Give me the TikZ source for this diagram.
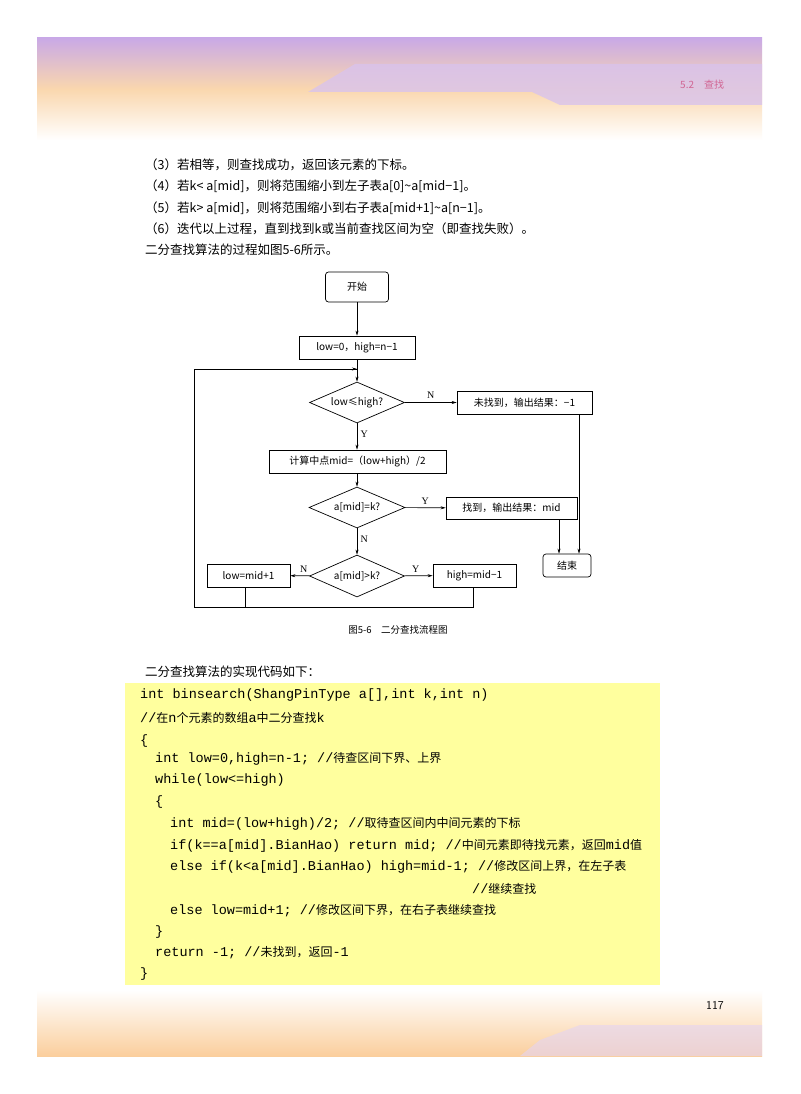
\documentclass[tikz,border=0pt]{standalone}
\usepackage{fontspec}
\setmainfont{Liberation Serif}
\setmonofont{Liberation Mono}
\newfontfamily\cjk{Noto Sans CJK SC}
\usetikzlibrary{arrows.meta,shapes.geometric}
\definecolor{codebg}{HTML}{FFFF9E}
\definecolor{hpurple}{HTML}{C9A9E6}
\definecolor{horange}{HTML}{FAD7AE}
\begin{document}
\begin{tikzpicture}[x=1pt,y=-1pt,
  box/.style={draw,line width=0.7pt,minimum height=23pt,inner sep=2pt,font=\cjk\fontsize{10}{12}\selectfont},
  dia/.style={draw,diamond,aspect=2.3,line width=0.7pt,inner sep=1pt,font=\cjk\fontsize{10}{12}\selectfont},
  arr/.style={-{Stealth[length=5pt,width=3pt]},line width=0.6pt},
  ln/.style={line width=0.6pt},
  lab/.style={font=\fontsize{10}{12}\selectfont},
  txt/.style={anchor=west,inner sep=0,font=\cjk\fontsize{12.5}{14}\selectfont},
  code/.style={anchor=west,inner sep=0,font=\ttfamily\fontsize{13.5}{15}\selectfont}]
\useasboundingbox (0,0) rectangle (800,1094);
\fill[white] (0,0) rectangle (800,1094);
% header
\shade[top color=hpurple,bottom color=white,middle color=horange] (37,38) rectangle (762,140);
\fill[hpurple!70,opacity=0.8] (308,92) -- (355,64) -- (762,64) -- (762,105) -- (560,105) -- (532,92) -- cycle;
\node[anchor=west,inner sep=0,text=violet!60!red!60,font=\cjk\fontsize{10}{12}\selectfont] (hd) at (680,85) {5.2\quad 查找};
% intro text
\node[txt] (t1) at (145,165) {（3）若相等，则查找成功，返回该元素的下标。};
\node[txt] (t2) at (145,186) {（4）若k< a[mid]，则将范围缩小到左子表a[0]\textasciitilde a[mid−1]。};
\node[txt] (t3) at (145,208) {（5）若k> a[mid]，则将范围缩小到右子表a[mid+1]\textasciitilde a[n−1]。};
\node[txt] (t4) at (145,229) {（6）迭代以上过程，直到找到k或当前查找区间为空（即查找失败）。};
\node[txt] (t5) at (145,250) {二分查找算法的过程如图5-6所示。};
% flowchart
\node[box,rounded corners=3pt,minimum width=63pt,minimum height=30pt] (start) at (357,287) {开始};
\node[box,minimum width=116pt] (init) at (357,347.5) {low=0，high=n−1};
\node[dia,minimum width=95pt,minimum height=41pt] (d1) at (357,402.5) {low≤high?};
\node[box,minimum width=135pt] (nf) at (524.5,402.5) {未找到，输出结果：−1};
\node[box,minimum width=177pt] (calc) at (357.5,461.5) {计算中点mid=（low+high）/2};
\node[dia,minimum width=96pt,minimum height=41pt] (d2) at (357,507.5) {a[mid]=k?};
\node[box,minimum width=131pt,minimum height=22pt] (fd) at (511.5,508) {找到，输出结果：mid};
\node[dia,minimum width=95pt,minimum height=42pt] (d3) at (357,576) {a[mid]>k?};
\node[box,minimum width=83pt] (lo) at (248.5,575.5) {low=mid+1};
\node[box,minimum width=83pt] (hi) at (474.5,575.5) {high=mid−1};
\node[box,rounded corners=3pt,minimum width=48pt] (end) at (567,565.5) {结束};
\draw[arr] (start) -- (init);
\draw[arr] (init) -- (d1);
\draw[arr] (d1) -- node[lab,above,pos=0.5]{N} (nf);
\draw[arr] (d1) -- node[lab,right,pos=0.4]{Y} (d1|-calc.north);
\draw[arr] (d1|-calc.south) -- (d2);
\draw[arr] (d2) -- node[lab,above,pos=0.5]{Y} (fd);
\draw[arr] (d2) -- node[lab,right,pos=0.4]{N} (d3);
\draw[arr] (d3) -- node[lab,above,pos=0.3]{N} (lo);
\draw[arr] (d3) -- node[lab,above,pos=0.4]{Y} (hi);
\draw[arr] (nf.south -| 579,0) -- (end.north -| 579,0);
\draw[arr] (fd.south -| 559,0) -- (end.north -| 559,0);
\draw[ln] (lo.south -| 245,0) -- (245,607) -- (194,607) -- (194,369) -- (357,369);
\draw[ln] (hi.south -| 473,0) -- (473,607) -- (245,607);
\draw[arr] (340,369) -- (357,369);
\node[font=\cjk\fontsize{9.5}{11}\selectfont] (cap) at (398,630) {图5-6\quad 二分查找流程图};
\node[txt] (t6) at (145,672) {二分查找算法的实现代码如下：};
% code
\fill[codebg] (125,683) rectangle (660,985);
\node[code] (c1) at (140,695) {int binsearch(ShangPinType a[],int k,int n)};
\node[code] (c2) at (140,718) {//{\cjk\fontsize{12}{14}\selectfont 在}n{\cjk\fontsize{12}{14}\selectfont 个元素的数组}a{\cjk\fontsize{12}{14}\selectfont 中二分查找}k};
\node[code] (c3) at (140,741) {\{};
\node[code] (c4) at (155,759) {int low=0,high=n-1; //{\cjk\fontsize{12}{14}\selectfont 待查区间下界、上界}};
\node[code] (c5) at (155,780) {while(low<=high)};
\node[code] (c6) at (155,802) {\{};
\node[code] (c7) at (170,824) {int mid=(low+high)/2; //{\cjk\fontsize{12}{14}\selectfont 取待查区间内中间元素的下标}};
\node[code] (c8) at (170,846) {if(k==a[mid].BianHao) return mid;  //{\cjk\fontsize{12}{14}\selectfont 中间元素即待找元素，返回}mid{\cjk\fontsize{12}{14}\selectfont 值}};
\node[code] (c9) at (170,867) {else if(k<a[mid].BianHao) high=mid-1;  //{\cjk\fontsize{12}{14}\selectfont 修改区间上界，在左子表}};
\node[code] (c10) at (472,889) {//{\cjk\fontsize{12}{14}\selectfont 继续查找}};
\node[code] (c11) at (170,911) {else low=mid+1;  //{\cjk\fontsize{12}{14}\selectfont 修改区间下界，在右子表继续查找}};
\node[code] (c12) at (155,932) {\}};
\node[code] (c13) at (155,953) {return -1;  //{\cjk\fontsize{12}{14}\selectfont 未找到，返回}-1};
\node[code] (c14) at (140,974) {\}};
% footer
\shade[top color=white,bottom color=horange!90!orange] (37,990) rectangle (762,1056);
\fill[hpurple!50,opacity=0.6] (540,1040) -- (580,1025) -- (762,1025) -- (762,1056) -- (520,1056) -- cycle;
\node[font=\sffamily\fontsize{12}{14}\selectfont] (pg) at (715,1005) {117};
\end{tikzpicture}
\end{document}
